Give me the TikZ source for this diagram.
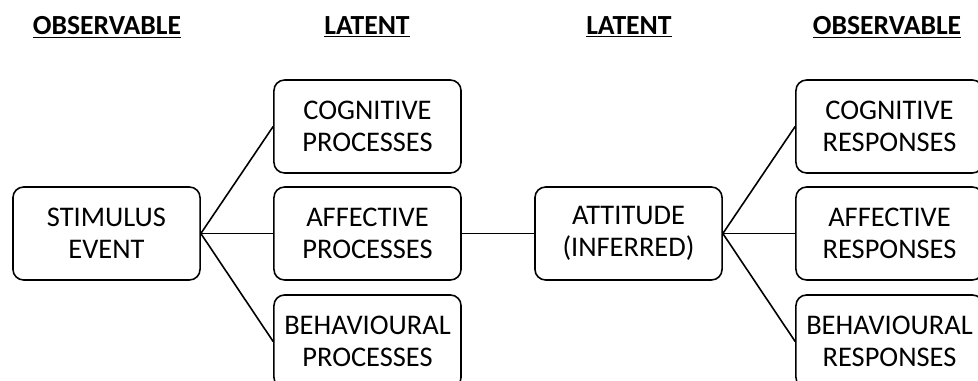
\documentclass[tikz,border=0pt]{standalone}
\usepackage{fontspec}
\setmainfont{Carlito}
\usetikzlibrary{positioning}

\begin{document}
\begin{tikzpicture}[
    stage/.style={rectangle, draw, line width=1.2pt, minimum width=4.95cm, minimum height=2.46cm, rounded corners=0.28cm, align=center, font=\fontsize{21.4}{24}\selectfont},
    heading/.style={font=\fontsize{20.8}{24}\selectfont\bfseries}
]
    \useasboundingbox (0,0) rectangle (25.876,-10.08);

    % Headings
    \node[heading] (h1) at (2.83,-0.72) {\underline{OBSERVABLE}};
    \node[heading] (h2) at (9.71,-0.72) {\underline{LATENT}};
    \node[heading] (h3) at (16.64,-0.72) {\underline{LATENT}};
    \node[heading] (h4) at (23.47,-0.72) {\underline{OBSERVABLE}};

    % Boxes
    \node[stage] (stim) at (2.818,-6.178) {STIMULUS\\EVENT};
    \node[stage] (cogp) at (9.723,-3.347) {COGNITIVE\\PROCESSES};
    \node[stage] (affp) at (9.723,-6.178) {AFFECTIVE\\PROCESSES};
    \node[stage] (behp) at (9.723,-9.035) {BEHAVIOURAL\\PROCESSES};
    \node[stage] (att) at (16.629,-6.178) {ATTITUDE\\(INFERRED)};
    \node[stage] (cogr) at (23.534,-3.347) {COGNITIVE\\RESPONSES};
    \node[stage] (affr) at (23.534,-6.178) {AFFECTIVE\\RESPONSES};
    \node[stage] (behr) at (23.534,-9.035) {BEHAVIOURAL\\RESPONSES};

    % Lines
    \draw[line width=1.2pt] (stim.east) -- (cogp.west);
    \draw[line width=1.2pt] (stim.east) -- (affp.west);
    \draw[line width=1.2pt] (stim.east) -- (behp.west);
    \draw[line width=1.2pt] (affp.east) -- (att.west);
    \draw[line width=1.2pt] (att.east) -- (cogr.west);
    \draw[line width=1.2pt] (att.east) -- (affr.west);
    \draw[line width=1.2pt] (att.east) -- (behr.west);

\end{tikzpicture}
\end{document}
